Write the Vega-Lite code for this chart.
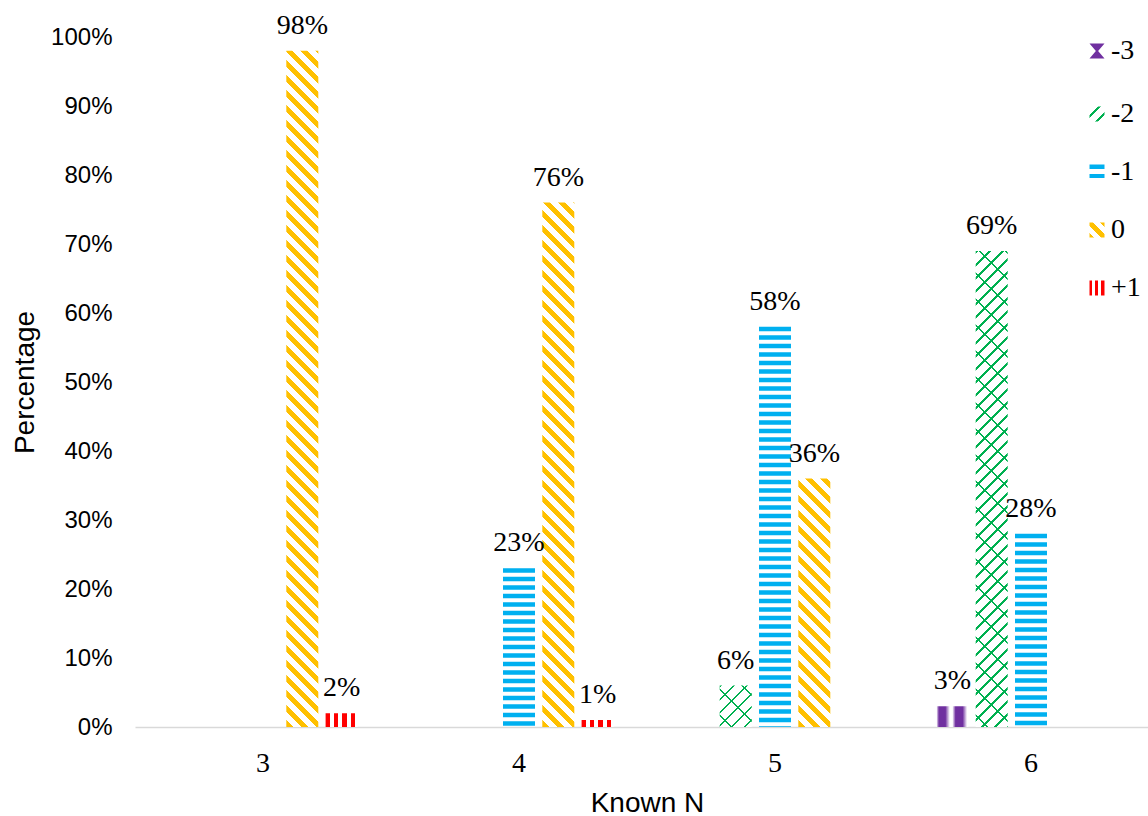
{
  "$schema": "https://vega.github.io/schema/vega-lite/v6.json",
  "width": 1013,
  "height": 690,
  "autosize": {"type": "none"},
  "padding": {"left": 135, "top": 37, "right": 0, "bottom": 89},
  "background": "white",
  "config": {"view": {"stroke": null}, "legend": {"labelFont": "Liberation Serif", "labelFontSize": 28}},
  "data": {
    "values": [
      {"n": 3, "series": "0", "value": 0.98},
      {"n": 3, "series": "+1", "value": 0.02},
      {"n": 4, "series": "-1", "value": 0.23},
      {"n": 4, "series": "0", "value": 0.76},
      {"n": 4, "series": "+1", "value": 0.01},
      {"n": 5, "series": "-2", "value": 0.06},
      {"n": 5, "series": "-1", "value": 0.58},
      {"n": 5, "series": "0", "value": 0.36},
      {"n": 6, "series": "-3", "value": 0.03},
      {"n": 6, "series": "-2", "value": 0.69},
      {"n": 6, "series": "-1", "value": 0.28}
    ]
  },
  "encoding": {
    "x": {
      "field": "n", "type": "nominal",
      "scale": {"range": [0, 1024], "paddingInner": 0, "paddingOuter": 0},
      "axis": {
        "title": "Known N", "labelAngle": 0, "labelFont": "Liberation Serif", "labelFontSize": 28,
        "labelColor": "#000", "labelPadding": 22, "ticks": false, "tickSize": 0, "grid": false,
        "domainColor": "#d9d9d9", "domainWidth": 1.3,
        "titleFont": "Liberation Sans", "titleFontSize": 28, "titleFontWeight": "normal", "titleColor": "#000",
        "titleBaseline": "alphabetic", "titleY": 84
      }
    },
    "y": {
      "field": "value", "type": "quantitative",
      "scale": {"domain": [0, 1], "nice": false},
      "axis": {
        "title": "Percentage", "values": [0, 0.1, 0.2, 0.3, 0.4, 0.5, 0.6, 0.7, 0.8, 0.9, 1], "format": ".0%",
        "labelFont": "Liberation Sans", "labelFontSize": 24, "labelColor": "#000", "labelPadding": 23,
        "ticks": false, "tickSize": 0, "domain": false, "grid": false,
        "titleFont": "Liberation Sans", "titleFontSize": 28, "titleFontWeight": "normal", "titleColor": "#000",
        "titleBaseline": "alphabetic", "titleAngle": 270, "titleX": -101.5, "titleY": 345
      }
    }
  },
  "layer": [
    {
      "mark": {"type": "bar"},
      "encoding": {
        "xOffset": {"field": "series", "type": "nominal", "scale": {"domain": ["-3", "-2", "-1", "0", "+1"], "paddingInner": 0.186, "paddingOuter": 0.85}},
        "fill": {
          "field": "series", "type": "nominal",
          "scale": {"domain": ["-3", "-2", "-1", "0", "+1"], "range": ["#7030a0", "#00b050", "#00b0f0", "#ffc000", "#ff0000"]},
          "legend": {
            "orient": "none", "legendX": 948, "legendY": 0, "title": null, "padding": 0,
            "symbolType": "square", "symbolSize": 25, "symbolStrokeWidth": 10,
            "labelFont": "Liberation Serif", "labelFontSize": 28, "labelColor": "#000", "labelOffset": 0,
            "rowPadding": 12,
            "encode": {
              "symbols": {
                "update": {
                  "shape": [
                    {"test": "datum.value === '-3'", "value": "M-3,-3H3L0.45,0L3,3H-3L-0.45,0Z"},
                    {"value": "square"}
                  ],
                  "strokeJoin": {"value": "miter"},
                  "stroke": [
                    {"test": "datum.value === '-3'", "value": "transparent"},
                    {"test": "datum.value === '-2'", "value": {"gradient": "linear", "x1": -1, "y1": -1, "x2": 2, "y2": 2, "stops": [{"offset": 0, "color": "#fff"}, {"offset": 0.28, "color": "#fff"}, {"offset": 0.28, "color": "#00b050"}, {"offset": 0.37, "color": "#00b050"}, {"offset": 0.37, "color": "#fff"}, {"offset": 0.68, "color": "#fff"}, {"offset": 0.68, "color": "#00b050"}, {"offset": 0.77, "color": "#00b050"}, {"offset": 0.77, "color": "#fff"}, {"offset": 1, "color": "#fff"}]}},
                    {"test": "datum.value === '-1'", "value": {"gradient": "linear", "x1": 0, "y1": -1, "x2": 0, "y2": 2, "stops": [{"offset": 0, "color": "#00b0f0"}, {"offset": 0.3, "color": "#00b0f0"}, {"offset": 0.3, "color": "#fff"}, {"offset": 0.62, "color": "#fff"}, {"offset": 0.62, "color": "#00b0f0"}, {"offset": 0.92, "color": "#00b0f0"}, {"offset": 0.92, "color": "#fff"}, {"offset": 1, "color": "#fff"}]}},
                    {"test": "datum.value === '0'", "value": {"gradient": "linear", "x1": -1, "y1": 2, "x2": 2, "y2": -1, "stops": [{"offset": 0, "color": "#ffc000"}, {"offset": 0.15, "color": "#ffc000"}, {"offset": 0.15, "color": "#fff"}, {"offset": 0.38, "color": "#fff"}, {"offset": 0.38, "color": "#ffc000"}, {"offset": 0.62, "color": "#ffc000"}, {"offset": 0.62, "color": "#fff"}, {"offset": 0.85, "color": "#fff"}, {"offset": 0.85, "color": "#ffc000"}, {"offset": 1, "color": "#ffc000"}]}},
                    {"value": {"gradient": "linear", "x1": -1, "y1": 0, "x2": 2, "y2": 0, "stops": [{"offset": 0, "color": "#ff0000"}, {"offset": 0.2, "color": "#ff0000"}, {"offset": 0.2, "color": "#fff"}, {"offset": 0.4, "color": "#fff"}, {"offset": 0.4, "color": "#ff0000"}, {"offset": 0.6, "color": "#ff0000"}, {"offset": 0.6, "color": "#fff"}, {"offset": 0.8, "color": "#fff"}, {"offset": 0.8, "color": "#ff0000"}, {"offset": 1, "color": "#ff0000"}]}}
                  ]
                }
              }
            }
          },
          "condition": [
            {"test": "datum.series === '-1'", "value": "transparent"},
            {"test": "datum.series === '+1'", "value": {"gradient": "linear", "x1": 0, "y1": 0, "x2": 1, "y2": 0, "stops": [{"offset": 0, "color": "#ff0000"}, {"offset": 0.135, "color": "#ff0000"}, {"offset": 0.135, "color": "#fff"}, {"offset": 0.26, "color": "#fff"}, {"offset": 0.26, "color": "#ff0000"}, {"offset": 0.395, "color": "#ff0000"}, {"offset": 0.395, "color": "#fff"}, {"offset": 0.52, "color": "#fff"}, {"offset": 0.52, "color": "#ff0000"}, {"offset": 0.655, "color": "#ff0000"}, {"offset": 0.655, "color": "#fff"}, {"offset": 0.78, "color": "#fff"}, {"offset": 0.78, "color": "#ff0000"}, {"offset": 0.93, "color": "#ff0000"}, {"offset": 0.93, "color": "#fff"}, {"offset": 1, "color": "#fff"}]}},
            {"test": "datum.series === '-3'", "value": {"gradient": "linear", "x1": 0, "y1": 0, "x2": 1, "y2": 0, "stops": [{"offset": 0, "color": "#fff"}, {"offset": 0.08, "color": "#7030a0"}, {"offset": 0.28, "color": "#7030a0"}, {"offset": 0.42, "color": "#fff"}, {"offset": 0.5, "color": "#fff"}, {"offset": 0.6, "color": "#7030a0"}, {"offset": 0.82, "color": "#7030a0"}, {"offset": 0.96, "color": "#fff"}]}},
            {"test": "datum.n === 3", "value": {"gradient": "linear", "x1": 0, "y1": 1, "x2": 0.104742, "y2": -1.21334, "stops": [
              {"offset":0,"color":"#ffc000"},{"offset":0.005,"color":"#ffc000"},{"offset":0.005,"color":"#fff"},{"offset":0.01,"color":"#fff"},
              {"offset":0.01,"color":"#ffc000"},{"offset":0.015,"color":"#ffc000"},{"offset":0.015,"color":"#fff"},{"offset":0.02,"color":"#fff"},
              {"offset":0.02,"color":"#ffc000"},{"offset":0.025,"color":"#ffc000"},{"offset":0.025,"color":"#fff"},{"offset":0.03,"color":"#fff"},
              {"offset":0.03,"color":"#ffc000"},{"offset":0.035,"color":"#ffc000"},{"offset":0.035,"color":"#fff"},{"offset":0.04,"color":"#fff"},
              {"offset":0.04,"color":"#ffc000"},{"offset":0.045,"color":"#ffc000"},{"offset":0.045,"color":"#fff"},{"offset":0.05,"color":"#fff"},
              {"offset":0.05,"color":"#ffc000"},{"offset":0.055,"color":"#ffc000"},{"offset":0.055,"color":"#fff"},{"offset":0.06,"color":"#fff"},
              {"offset":0.06,"color":"#ffc000"},{"offset":0.065,"color":"#ffc000"},{"offset":0.065,"color":"#fff"},{"offset":0.07,"color":"#fff"},
              {"offset":0.07,"color":"#ffc000"},{"offset":0.075,"color":"#ffc000"},{"offset":0.075,"color":"#fff"},{"offset":0.08,"color":"#fff"},
              {"offset":0.08,"color":"#ffc000"},{"offset":0.085,"color":"#ffc000"},{"offset":0.085,"color":"#fff"},{"offset":0.09,"color":"#fff"},
              {"offset":0.09,"color":"#ffc000"},{"offset":0.095,"color":"#ffc000"},{"offset":0.095,"color":"#fff"},{"offset":0.1,"color":"#fff"},
              {"offset":0.1,"color":"#ffc000"},{"offset":0.105,"color":"#ffc000"},{"offset":0.105,"color":"#fff"},{"offset":0.11,"color":"#fff"},
              {"offset":0.11,"color":"#ffc000"},{"offset":0.115,"color":"#ffc000"},{"offset":0.115,"color":"#fff"},{"offset":0.12,"color":"#fff"},
              {"offset":0.12,"color":"#ffc000"},{"offset":0.125,"color":"#ffc000"},{"offset":0.125,"color":"#fff"},{"offset":0.13,"color":"#fff"},
              {"offset":0.13,"color":"#ffc000"},{"offset":0.135,"color":"#ffc000"},{"offset":0.135,"color":"#fff"},{"offset":0.14,"color":"#fff"},
              {"offset":0.14,"color":"#ffc000"},{"offset":0.145,"color":"#ffc000"},{"offset":0.145,"color":"#fff"},{"offset":0.15,"color":"#fff"},
              {"offset":0.15,"color":"#ffc000"},{"offset":0.155,"color":"#ffc000"},{"offset":0.155,"color":"#fff"},{"offset":0.16,"color":"#fff"},
              {"offset":0.16,"color":"#ffc000"},{"offset":0.165,"color":"#ffc000"},{"offset":0.165,"color":"#fff"},{"offset":0.17,"color":"#fff"},
              {"offset":0.17,"color":"#ffc000"},{"offset":0.175,"color":"#ffc000"},{"offset":0.175,"color":"#fff"},{"offset":0.18,"color":"#fff"},
              {"offset":0.18,"color":"#ffc000"},{"offset":0.185,"color":"#ffc000"},{"offset":0.185,"color":"#fff"},{"offset":0.19,"color":"#fff"},
              {"offset":0.19,"color":"#ffc000"},{"offset":0.195,"color":"#ffc000"},{"offset":0.195,"color":"#fff"},{"offset":0.2,"color":"#fff"},
              {"offset":0.2,"color":"#ffc000"},{"offset":0.205,"color":"#ffc000"},{"offset":0.205,"color":"#fff"},{"offset":0.21,"color":"#fff"},
              {"offset":0.21,"color":"#ffc000"},{"offset":0.215,"color":"#ffc000"},{"offset":0.215,"color":"#fff"},{"offset":0.22,"color":"#fff"},
              {"offset":0.22,"color":"#ffc000"},{"offset":0.225,"color":"#ffc000"},{"offset":0.225,"color":"#fff"},{"offset":0.23,"color":"#fff"},
              {"offset":0.23,"color":"#ffc000"},{"offset":0.235,"color":"#ffc000"},{"offset":0.235,"color":"#fff"},{"offset":0.24,"color":"#fff"},
              {"offset":0.24,"color":"#ffc000"},{"offset":0.245,"color":"#ffc000"},{"offset":0.245,"color":"#fff"},{"offset":0.25,"color":"#fff"},
              {"offset":0.25,"color":"#ffc000"},{"offset":0.255,"color":"#ffc000"},{"offset":0.255,"color":"#fff"},{"offset":0.26,"color":"#fff"},
              {"offset":0.26,"color":"#ffc000"},{"offset":0.265,"color":"#ffc000"},{"offset":0.265,"color":"#fff"},{"offset":0.27,"color":"#fff"},
              {"offset":0.27,"color":"#ffc000"},{"offset":0.275,"color":"#ffc000"},{"offset":0.275,"color":"#fff"},{"offset":0.28,"color":"#fff"},
              {"offset":0.28,"color":"#ffc000"},{"offset":0.285,"color":"#ffc000"},{"offset":0.285,"color":"#fff"},{"offset":0.29,"color":"#fff"},
              {"offset":0.29,"color":"#ffc000"},{"offset":0.295,"color":"#ffc000"},{"offset":0.295,"color":"#fff"},{"offset":0.3,"color":"#fff"},
              {"offset":0.3,"color":"#ffc000"},{"offset":0.305,"color":"#ffc000"},{"offset":0.305,"color":"#fff"},{"offset":0.31,"color":"#fff"},
              {"offset":0.31,"color":"#ffc000"},{"offset":0.315,"color":"#ffc000"},{"offset":0.315,"color":"#fff"},{"offset":0.32,"color":"#fff"},
              {"offset":0.32,"color":"#ffc000"},{"offset":0.325,"color":"#ffc000"},{"offset":0.325,"color":"#fff"},{"offset":0.33,"color":"#fff"},
              {"offset":0.33,"color":"#ffc000"},{"offset":0.335,"color":"#ffc000"},{"offset":0.335,"color":"#fff"},{"offset":0.34,"color":"#fff"},
              {"offset":0.34,"color":"#ffc000"},{"offset":0.345,"color":"#ffc000"},{"offset":0.345,"color":"#fff"},{"offset":0.35,"color":"#fff"},
              {"offset":0.35,"color":"#ffc000"},{"offset":0.355,"color":"#ffc000"},{"offset":0.355,"color":"#fff"},{"offset":0.36,"color":"#fff"},
              {"offset":0.36,"color":"#ffc000"},{"offset":0.365,"color":"#ffc000"},{"offset":0.365,"color":"#fff"},{"offset":0.37,"color":"#fff"},
              {"offset":0.37,"color":"#ffc000"},{"offset":0.375,"color":"#ffc000"},{"offset":0.375,"color":"#fff"},{"offset":0.38,"color":"#fff"},
              {"offset":0.38,"color":"#ffc000"},{"offset":0.385,"color":"#ffc000"},{"offset":0.385,"color":"#fff"},{"offset":0.39,"color":"#fff"},
              {"offset":0.39,"color":"#ffc000"},{"offset":0.395,"color":"#ffc000"},{"offset":0.395,"color":"#fff"},{"offset":0.4,"color":"#fff"},
              {"offset":0.4,"color":"#ffc000"},{"offset":0.405,"color":"#ffc000"},{"offset":0.405,"color":"#fff"},{"offset":0.41,"color":"#fff"},
              {"offset":0.41,"color":"#ffc000"},{"offset":0.415,"color":"#ffc000"},{"offset":0.415,"color":"#fff"},{"offset":0.42,"color":"#fff"},
              {"offset":0.42,"color":"#ffc000"},{"offset":0.425,"color":"#ffc000"},{"offset":0.425,"color":"#fff"},{"offset":0.43,"color":"#fff"},
              {"offset":0.43,"color":"#ffc000"},{"offset":0.435,"color":"#ffc000"},{"offset":0.435,"color":"#fff"},{"offset":0.44,"color":"#fff"},
              {"offset":0.44,"color":"#ffc000"},{"offset":0.445,"color":"#ffc000"},{"offset":0.445,"color":"#fff"},{"offset":0.45,"color":"#fff"},
              {"offset":0.45,"color":"#ffc000"},{"offset":0.455,"color":"#ffc000"},{"offset":0.455,"color":"#fff"},{"offset":0.46,"color":"#fff"},
              {"offset":0.46,"color":"#ffc000"},{"offset":0.465,"color":"#ffc000"},{"offset":0.465,"color":"#fff"},{"offset":0.47,"color":"#fff"},
              {"offset":0.47,"color":"#ffc000"},{"offset":0.475,"color":"#ffc000"},{"offset":0.475,"color":"#fff"},{"offset":0.48,"color":"#fff"}
            ]}},
            {"test": "datum.n === 4", "value": {"gradient": "linear", "x1": 0, "y1": 1, "x2": 0.173901, "y2": -1.8498, "stops": [
              {"offset":0,"color":"#ffc000"},{"offset":0.005,"color":"#ffc000"},{"offset":0.005,"color":"#fff"},{"offset":0.01,"color":"#fff"},
              {"offset":0.01,"color":"#ffc000"},{"offset":0.015,"color":"#ffc000"},{"offset":0.015,"color":"#fff"},{"offset":0.02,"color":"#fff"},
              {"offset":0.02,"color":"#ffc000"},{"offset":0.025,"color":"#ffc000"},{"offset":0.025,"color":"#fff"},{"offset":0.03,"color":"#fff"},
              {"offset":0.03,"color":"#ffc000"},{"offset":0.035,"color":"#ffc000"},{"offset":0.035,"color":"#fff"},{"offset":0.04,"color":"#fff"},
              {"offset":0.04,"color":"#ffc000"},{"offset":0.045,"color":"#ffc000"},{"offset":0.045,"color":"#fff"},{"offset":0.05,"color":"#fff"},
              {"offset":0.05,"color":"#ffc000"},{"offset":0.055,"color":"#ffc000"},{"offset":0.055,"color":"#fff"},{"offset":0.06,"color":"#fff"},
              {"offset":0.06,"color":"#ffc000"},{"offset":0.065,"color":"#ffc000"},{"offset":0.065,"color":"#fff"},{"offset":0.07,"color":"#fff"},
              {"offset":0.07,"color":"#ffc000"},{"offset":0.075,"color":"#ffc000"},{"offset":0.075,"color":"#fff"},{"offset":0.08,"color":"#fff"},
              {"offset":0.08,"color":"#ffc000"},{"offset":0.085,"color":"#ffc000"},{"offset":0.085,"color":"#fff"},{"offset":0.09,"color":"#fff"},
              {"offset":0.09,"color":"#ffc000"},{"offset":0.095,"color":"#ffc000"},{"offset":0.095,"color":"#fff"},{"offset":0.1,"color":"#fff"},
              {"offset":0.1,"color":"#ffc000"},{"offset":0.105,"color":"#ffc000"},{"offset":0.105,"color":"#fff"},{"offset":0.11,"color":"#fff"},
              {"offset":0.11,"color":"#ffc000"},{"offset":0.115,"color":"#ffc000"},{"offset":0.115,"color":"#fff"},{"offset":0.12,"color":"#fff"},
              {"offset":0.12,"color":"#ffc000"},{"offset":0.125,"color":"#ffc000"},{"offset":0.125,"color":"#fff"},{"offset":0.13,"color":"#fff"},
              {"offset":0.13,"color":"#ffc000"},{"offset":0.135,"color":"#ffc000"},{"offset":0.135,"color":"#fff"},{"offset":0.14,"color":"#fff"},
              {"offset":0.14,"color":"#ffc000"},{"offset":0.145,"color":"#ffc000"},{"offset":0.145,"color":"#fff"},{"offset":0.15,"color":"#fff"},
              {"offset":0.15,"color":"#ffc000"},{"offset":0.155,"color":"#ffc000"},{"offset":0.155,"color":"#fff"},{"offset":0.16,"color":"#fff"},
              {"offset":0.16,"color":"#ffc000"},{"offset":0.165,"color":"#ffc000"},{"offset":0.165,"color":"#fff"},{"offset":0.17,"color":"#fff"},
              {"offset":0.17,"color":"#ffc000"},{"offset":0.175,"color":"#ffc000"},{"offset":0.175,"color":"#fff"},{"offset":0.18,"color":"#fff"},
              {"offset":0.18,"color":"#ffc000"},{"offset":0.185,"color":"#ffc000"},{"offset":0.185,"color":"#fff"},{"offset":0.19,"color":"#fff"},
              {"offset":0.19,"color":"#ffc000"},{"offset":0.195,"color":"#ffc000"},{"offset":0.195,"color":"#fff"},{"offset":0.2,"color":"#fff"},
              {"offset":0.2,"color":"#ffc000"},{"offset":0.205,"color":"#ffc000"},{"offset":0.205,"color":"#fff"},{"offset":0.21,"color":"#fff"},
              {"offset":0.21,"color":"#ffc000"},{"offset":0.215,"color":"#ffc000"},{"offset":0.215,"color":"#fff"},{"offset":0.22,"color":"#fff"},
              {"offset":0.22,"color":"#ffc000"},{"offset":0.225,"color":"#ffc000"},{"offset":0.225,"color":"#fff"},{"offset":0.23,"color":"#fff"},
              {"offset":0.23,"color":"#ffc000"},{"offset":0.235,"color":"#ffc000"},{"offset":0.235,"color":"#fff"},{"offset":0.24,"color":"#fff"},
              {"offset":0.24,"color":"#ffc000"},{"offset":0.245,"color":"#ffc000"},{"offset":0.245,"color":"#fff"},{"offset":0.25,"color":"#fff"},
              {"offset":0.25,"color":"#ffc000"},{"offset":0.255,"color":"#ffc000"},{"offset":0.255,"color":"#fff"},{"offset":0.26,"color":"#fff"},
              {"offset":0.26,"color":"#ffc000"},{"offset":0.265,"color":"#ffc000"},{"offset":0.265,"color":"#fff"},{"offset":0.27,"color":"#fff"},
              {"offset":0.27,"color":"#ffc000"},{"offset":0.275,"color":"#ffc000"},{"offset":0.275,"color":"#fff"},{"offset":0.28,"color":"#fff"},
              {"offset":0.28,"color":"#ffc000"},{"offset":0.285,"color":"#ffc000"},{"offset":0.285,"color":"#fff"},{"offset":0.29,"color":"#fff"},
              {"offset":0.29,"color":"#ffc000"},{"offset":0.295,"color":"#ffc000"},{"offset":0.295,"color":"#fff"},{"offset":0.3,"color":"#fff"},
              {"offset":0.3,"color":"#ffc000"},{"offset":0.305,"color":"#ffc000"},{"offset":0.305,"color":"#fff"},{"offset":0.31,"color":"#fff"},
              {"offset":0.31,"color":"#ffc000"},{"offset":0.315,"color":"#ffc000"},{"offset":0.315,"color":"#fff"},{"offset":0.32,"color":"#fff"},
              {"offset":0.32,"color":"#ffc000"},{"offset":0.325,"color":"#ffc000"},{"offset":0.325,"color":"#fff"},{"offset":0.33,"color":"#fff"},
              {"offset":0.33,"color":"#ffc000"},{"offset":0.335,"color":"#ffc000"},{"offset":0.335,"color":"#fff"},{"offset":0.34,"color":"#fff"},
              {"offset":0.34,"color":"#ffc000"},{"offset":0.345,"color":"#ffc000"},{"offset":0.345,"color":"#fff"},{"offset":0.35,"color":"#fff"},
              {"offset":0.35,"color":"#ffc000"},{"offset":0.355,"color":"#ffc000"},{"offset":0.355,"color":"#fff"},{"offset":0.36,"color":"#fff"},
              {"offset":0.36,"color":"#ffc000"},{"offset":0.365,"color":"#ffc000"},{"offset":0.365,"color":"#fff"},{"offset":0.37,"color":"#fff"},
              {"offset":0.37,"color":"#ffc000"},{"offset":0.375,"color":"#ffc000"},{"offset":0.375,"color":"#fff"},{"offset":0.38,"color":"#fff"}
            ]}},
            {"test": "datum.n === 5 && datum.series === '0'", "value": {"gradient": "linear", "x1": 0, "y1": 1, "x2": 0.765226, "y2": -4.94006, "stops": [
              {"offset":0,"color":"#ffc000"},{"offset":0.005,"color":"#ffc000"},{"offset":0.005,"color":"#fff"},{"offset":0.01,"color":"#fff"},
              {"offset":0.01,"color":"#ffc000"},{"offset":0.015,"color":"#ffc000"},{"offset":0.015,"color":"#fff"},{"offset":0.02,"color":"#fff"},
              {"offset":0.02,"color":"#ffc000"},{"offset":0.025,"color":"#ffc000"},{"offset":0.025,"color":"#fff"},{"offset":0.03,"color":"#fff"},
              {"offset":0.03,"color":"#ffc000"},{"offset":0.035,"color":"#ffc000"},{"offset":0.035,"color":"#fff"},{"offset":0.04,"color":"#fff"},
              {"offset":0.04,"color":"#ffc000"},{"offset":0.045,"color":"#ffc000"},{"offset":0.045,"color":"#fff"},{"offset":0.05,"color":"#fff"},
              {"offset":0.05,"color":"#ffc000"},{"offset":0.055,"color":"#ffc000"},{"offset":0.055,"color":"#fff"},{"offset":0.06,"color":"#fff"},
              {"offset":0.06,"color":"#ffc000"},{"offset":0.065,"color":"#ffc000"},{"offset":0.065,"color":"#fff"},{"offset":0.07,"color":"#fff"},
              {"offset":0.07,"color":"#ffc000"},{"offset":0.075,"color":"#ffc000"},{"offset":0.075,"color":"#fff"},{"offset":0.08,"color":"#fff"},
              {"offset":0.08,"color":"#ffc000"},{"offset":0.085,"color":"#ffc000"},{"offset":0.085,"color":"#fff"},{"offset":0.09,"color":"#fff"},
              {"offset":0.09,"color":"#ffc000"},{"offset":0.095,"color":"#ffc000"},{"offset":0.095,"color":"#fff"},{"offset":0.1,"color":"#fff"},
              {"offset":0.1,"color":"#ffc000"},{"offset":0.105,"color":"#ffc000"},{"offset":0.105,"color":"#fff"},{"offset":0.11,"color":"#fff"},
              {"offset":0.11,"color":"#ffc000"},{"offset":0.115,"color":"#ffc000"},{"offset":0.115,"color":"#fff"},{"offset":0.12,"color":"#fff"},
              {"offset":0.12,"color":"#ffc000"},{"offset":0.125,"color":"#ffc000"},{"offset":0.125,"color":"#fff"},{"offset":0.13,"color":"#fff"},
              {"offset":0.13,"color":"#ffc000"},{"offset":0.135,"color":"#ffc000"},{"offset":0.135,"color":"#fff"},{"offset":0.14,"color":"#fff"},
              {"offset":0.14,"color":"#ffc000"},{"offset":0.145,"color":"#ffc000"},{"offset":0.145,"color":"#fff"},{"offset":0.15,"color":"#fff"},
              {"offset":0.15,"color":"#ffc000"},{"offset":0.155,"color":"#ffc000"},{"offset":0.155,"color":"#fff"},{"offset":0.16,"color":"#fff"},
              {"offset":0.16,"color":"#ffc000"},{"offset":0.165,"color":"#ffc000"},{"offset":0.165,"color":"#fff"},{"offset":0.17,"color":"#fff"},
              {"offset":0.17,"color":"#ffc000"},{"offset":0.175,"color":"#ffc000"},{"offset":0.175,"color":"#fff"},{"offset":0.18,"color":"#fff"},
              {"offset":0.18,"color":"#ffc000"},{"offset":0.185,"color":"#ffc000"},{"offset":0.185,"color":"#fff"},{"offset":0.19,"color":"#fff"}
            ]}},
            {"test": "datum.n === 5", "value": {"gradient": "linear", "x1": 0, "y1": 0, "x2": 15.1938, "y2": 19.657, "stops": [
              {"offset":0,"color":"#00b050"},{"offset":0.002,"color":"#00b050"},{"offset":0.002,"color":"#fff"},{"offset":0.01,"color":"#fff"},
              {"offset":0.01,"color":"#00b050"},{"offset":0.012,"color":"#00b050"},{"offset":0.012,"color":"#fff"},{"offset":0.02,"color":"#fff"},
              {"offset":0.02,"color":"#00b050"},{"offset":0.022,"color":"#00b050"},{"offset":0.022,"color":"#fff"},{"offset":0.03,"color":"#fff"},
              {"offset":0.03,"color":"#00b050"},{"offset":0.032,"color":"#00b050"},{"offset":0.032,"color":"#fff"},{"offset":0.04,"color":"#fff"},
              {"offset":0.04,"color":"#00b050"},{"offset":0.042,"color":"#00b050"},{"offset":0.042,"color":"#fff"},{"offset":0.05,"color":"#fff"},
              {"offset":0.05,"color":"#00b050"},{"offset":0.052,"color":"#00b050"},{"offset":0.052,"color":"#fff"},{"offset":0.06,"color":"#fff"}
            ]}},
            {"test": "datum.n === 6", "value": {"gradient": "linear", "x1": 0, "y1": 0, "x2": 0.1827, "y2": 2.71824, "stops": [
              {"offset":0,"color":"#00b050"},{"offset":0.002,"color":"#00b050"},{"offset":0.002,"color":"#fff"},{"offset":0.01,"color":"#fff"},
              {"offset":0.01,"color":"#00b050"},{"offset":0.012,"color":"#00b050"},{"offset":0.012,"color":"#fff"},{"offset":0.02,"color":"#fff"},
              {"offset":0.02,"color":"#00b050"},{"offset":0.022,"color":"#00b050"},{"offset":0.022,"color":"#fff"},{"offset":0.03,"color":"#fff"},
              {"offset":0.03,"color":"#00b050"},{"offset":0.032,"color":"#00b050"},{"offset":0.032,"color":"#fff"},{"offset":0.04,"color":"#fff"},
              {"offset":0.04,"color":"#00b050"},{"offset":0.042,"color":"#00b050"},{"offset":0.042,"color":"#fff"},{"offset":0.05,"color":"#fff"},
              {"offset":0.05,"color":"#00b050"},{"offset":0.052,"color":"#00b050"},{"offset":0.052,"color":"#fff"},{"offset":0.06,"color":"#fff"},
              {"offset":0.06,"color":"#00b050"},{"offset":0.062,"color":"#00b050"},{"offset":0.062,"color":"#fff"},{"offset":0.07,"color":"#fff"},
              {"offset":0.07,"color":"#00b050"},{"offset":0.072,"color":"#00b050"},{"offset":0.072,"color":"#fff"},{"offset":0.08,"color":"#fff"},
              {"offset":0.08,"color":"#00b050"},{"offset":0.082,"color":"#00b050"},{"offset":0.082,"color":"#fff"},{"offset":0.09,"color":"#fff"},
              {"offset":0.09,"color":"#00b050"},{"offset":0.092,"color":"#00b050"},{"offset":0.092,"color":"#fff"},{"offset":0.1,"color":"#fff"},
              {"offset":0.1,"color":"#00b050"},{"offset":0.102,"color":"#00b050"},{"offset":0.102,"color":"#fff"},{"offset":0.11,"color":"#fff"},
              {"offset":0.11,"color":"#00b050"},{"offset":0.112,"color":"#00b050"},{"offset":0.112,"color":"#fff"},{"offset":0.12,"color":"#fff"},
              {"offset":0.12,"color":"#00b050"},{"offset":0.122,"color":"#00b050"},{"offset":0.122,"color":"#fff"},{"offset":0.13,"color":"#fff"},
              {"offset":0.13,"color":"#00b050"},{"offset":0.132,"color":"#00b050"},{"offset":0.132,"color":"#fff"},{"offset":0.14,"color":"#fff"},
              {"offset":0.14,"color":"#00b050"},{"offset":0.142,"color":"#00b050"},{"offset":0.142,"color":"#fff"},{"offset":0.15,"color":"#fff"},
              {"offset":0.15,"color":"#00b050"},{"offset":0.152,"color":"#00b050"},{"offset":0.152,"color":"#fff"},{"offset":0.16,"color":"#fff"},
              {"offset":0.16,"color":"#00b050"},{"offset":0.162,"color":"#00b050"},{"offset":0.162,"color":"#fff"},{"offset":0.17,"color":"#fff"},
              {"offset":0.17,"color":"#00b050"},{"offset":0.172,"color":"#00b050"},{"offset":0.172,"color":"#fff"},{"offset":0.18,"color":"#fff"},
              {"offset":0.18,"color":"#00b050"},{"offset":0.182,"color":"#00b050"},{"offset":0.182,"color":"#fff"},{"offset":0.19,"color":"#fff"},
              {"offset":0.19,"color":"#00b050"},{"offset":0.192,"color":"#00b050"},{"offset":0.192,"color":"#fff"},{"offset":0.2,"color":"#fff"},
              {"offset":0.2,"color":"#00b050"},{"offset":0.202,"color":"#00b050"},{"offset":0.202,"color":"#fff"},{"offset":0.21,"color":"#fff"},
              {"offset":0.21,"color":"#00b050"},{"offset":0.212,"color":"#00b050"},{"offset":0.212,"color":"#fff"},{"offset":0.22,"color":"#fff"},
              {"offset":0.22,"color":"#00b050"},{"offset":0.222,"color":"#00b050"},{"offset":0.222,"color":"#fff"},{"offset":0.23,"color":"#fff"},
              {"offset":0.23,"color":"#00b050"},{"offset":0.232,"color":"#00b050"},{"offset":0.232,"color":"#fff"},{"offset":0.24,"color":"#fff"},
              {"offset":0.24,"color":"#00b050"},{"offset":0.242,"color":"#00b050"},{"offset":0.242,"color":"#fff"},{"offset":0.25,"color":"#fff"},
              {"offset":0.25,"color":"#00b050"},{"offset":0.252,"color":"#00b050"},{"offset":0.252,"color":"#fff"},{"offset":0.26,"color":"#fff"},
              {"offset":0.26,"color":"#00b050"},{"offset":0.262,"color":"#00b050"},{"offset":0.262,"color":"#fff"},{"offset":0.27,"color":"#fff"},
              {"offset":0.27,"color":"#00b050"},{"offset":0.272,"color":"#00b050"},{"offset":0.272,"color":"#fff"},{"offset":0.28,"color":"#fff"},
              {"offset":0.28,"color":"#00b050"},{"offset":0.282,"color":"#00b050"},{"offset":0.282,"color":"#fff"},{"offset":0.29,"color":"#fff"},
              {"offset":0.29,"color":"#00b050"},{"offset":0.292,"color":"#00b050"},{"offset":0.292,"color":"#fff"},{"offset":0.3,"color":"#fff"},
              {"offset":0.3,"color":"#00b050"},{"offset":0.302,"color":"#00b050"},{"offset":0.302,"color":"#fff"},{"offset":0.31,"color":"#fff"},
              {"offset":0.31,"color":"#00b050"},{"offset":0.312,"color":"#00b050"},{"offset":0.312,"color":"#fff"},{"offset":0.32,"color":"#fff"},
              {"offset":0.32,"color":"#00b050"},{"offset":0.322,"color":"#00b050"},{"offset":0.322,"color":"#fff"},{"offset":0.33,"color":"#fff"},
              {"offset":0.33,"color":"#00b050"},{"offset":0.332,"color":"#00b050"},{"offset":0.332,"color":"#fff"},{"offset":0.34,"color":"#fff"},
              {"offset":0.34,"color":"#00b050"},{"offset":0.342,"color":"#00b050"},{"offset":0.342,"color":"#fff"},{"offset":0.35,"color":"#fff"},
              {"offset":0.35,"color":"#00b050"},{"offset":0.352,"color":"#00b050"},{"offset":0.352,"color":"#fff"},{"offset":0.36,"color":"#fff"},
              {"offset":0.36,"color":"#00b050"},{"offset":0.362,"color":"#00b050"},{"offset":0.362,"color":"#fff"},{"offset":0.37,"color":"#fff"},
              {"offset":0.37,"color":"#00b050"},{"offset":0.372,"color":"#00b050"},{"offset":0.372,"color":"#fff"},{"offset":0.38,"color":"#fff"},
              {"offset":0.38,"color":"#00b050"},{"offset":0.382,"color":"#00b050"},{"offset":0.382,"color":"#fff"},{"offset":0.39,"color":"#fff"},
              {"offset":0.39,"color":"#00b050"},{"offset":0.392,"color":"#00b050"},{"offset":0.392,"color":"#fff"},{"offset":0.4,"color":"#fff"}
            ]}}
          ]
        }
      }
    },
    {
      "transform": [{"filter": "datum.series === '-2'"}],
      "mark": {"type": "bar"},
      "encoding": {
        "xOffset": {"field": "series", "type": "nominal", "scale": {"domain": ["-3", "-2", "-1", "0", "+1"], "paddingInner": 0.186, "paddingOuter": 0.85}},
        "fill": {
          "condition": {"test": "datum.n === 5", "value": {"gradient": "linear", "x1": 0, "y1": 1, "x2": 30.3876, "y2": -38.3139, "stops": [
            {"offset":0.004,"color":"rgba(0,0,0,0)"},{"offset":0.004,"color":"#00b050"},{"offset":0.0049,"color":"#00b050"},{"offset":0.0049,"color":"rgba(0,0,0,0)"},
            {"offset":0.014,"color":"rgba(0,0,0,0)"},{"offset":0.014,"color":"#00b050"},{"offset":0.0149,"color":"#00b050"},{"offset":0.0149,"color":"rgba(0,0,0,0)"},
            {"offset":0.024,"color":"rgba(0,0,0,0)"},{"offset":0.024,"color":"#00b050"},{"offset":0.0249,"color":"#00b050"},{"offset":0.0249,"color":"rgba(0,0,0,0)"}
          ]}},
          "value": {"gradient": "linear", "x1": 0, "y1": 1, "x2": 0.365402, "y2": -4.43649, "stops": [
            {"offset":0.004,"color":"rgba(0,0,0,0)"},{"offset":0.004,"color":"#00b050"},{"offset":0.0049,"color":"#00b050"},{"offset":0.0049,"color":"rgba(0,0,0,0)"},
            {"offset":0.014,"color":"rgba(0,0,0,0)"},{"offset":0.014,"color":"#00b050"},{"offset":0.0149,"color":"#00b050"},{"offset":0.0149,"color":"rgba(0,0,0,0)"},
            {"offset":0.024,"color":"rgba(0,0,0,0)"},{"offset":0.024,"color":"#00b050"},{"offset":0.0249,"color":"#00b050"},{"offset":0.0249,"color":"rgba(0,0,0,0)"},
            {"offset":0.034,"color":"rgba(0,0,0,0)"},{"offset":0.034,"color":"#00b050"},{"offset":0.0349,"color":"#00b050"},{"offset":0.0349,"color":"rgba(0,0,0,0)"},
            {"offset":0.044,"color":"rgba(0,0,0,0)"},{"offset":0.044,"color":"#00b050"},{"offset":0.0449,"color":"#00b050"},{"offset":0.0449,"color":"rgba(0,0,0,0)"},
            {"offset":0.054,"color":"rgba(0,0,0,0)"},{"offset":0.054,"color":"#00b050"},{"offset":0.0549,"color":"#00b050"},{"offset":0.0549,"color":"rgba(0,0,0,0)"},
            {"offset":0.064,"color":"rgba(0,0,0,0)"},{"offset":0.064,"color":"#00b050"},{"offset":0.0649,"color":"#00b050"},{"offset":0.0649,"color":"rgba(0,0,0,0)"},
            {"offset":0.074,"color":"rgba(0,0,0,0)"},{"offset":0.074,"color":"#00b050"},{"offset":0.0749,"color":"#00b050"},{"offset":0.0749,"color":"rgba(0,0,0,0)"},
            {"offset":0.084,"color":"rgba(0,0,0,0)"},{"offset":0.084,"color":"#00b050"},{"offset":0.0849,"color":"#00b050"},{"offset":0.0849,"color":"rgba(0,0,0,0)"},
            {"offset":0.094,"color":"rgba(0,0,0,0)"},{"offset":0.094,"color":"#00b050"},{"offset":0.0949,"color":"#00b050"},{"offset":0.0949,"color":"rgba(0,0,0,0)"},
            {"offset":0.104,"color":"rgba(0,0,0,0)"},{"offset":0.104,"color":"#00b050"},{"offset":0.1049,"color":"#00b050"},{"offset":0.1049,"color":"rgba(0,0,0,0)"},
            {"offset":0.114,"color":"rgba(0,0,0,0)"},{"offset":0.114,"color":"#00b050"},{"offset":0.1149,"color":"#00b050"},{"offset":0.1149,"color":"rgba(0,0,0,0)"},
            {"offset":0.124,"color":"rgba(0,0,0,0)"},{"offset":0.124,"color":"#00b050"},{"offset":0.1249,"color":"#00b050"},{"offset":0.1249,"color":"rgba(0,0,0,0)"},
            {"offset":0.134,"color":"rgba(0,0,0,0)"},{"offset":0.134,"color":"#00b050"},{"offset":0.1349,"color":"#00b050"},{"offset":0.1349,"color":"rgba(0,0,0,0)"},
            {"offset":0.144,"color":"rgba(0,0,0,0)"},{"offset":0.144,"color":"#00b050"},{"offset":0.1449,"color":"#00b050"},{"offset":0.1449,"color":"rgba(0,0,0,0)"},
            {"offset":0.154,"color":"rgba(0,0,0,0)"},{"offset":0.154,"color":"#00b050"},{"offset":0.1549,"color":"#00b050"},{"offset":0.1549,"color":"rgba(0,0,0,0)"},
            {"offset":0.164,"color":"rgba(0,0,0,0)"},{"offset":0.164,"color":"#00b050"},{"offset":0.1649,"color":"#00b050"},{"offset":0.1649,"color":"rgba(0,0,0,0)"},
            {"offset":0.174,"color":"rgba(0,0,0,0)"},{"offset":0.174,"color":"#00b050"},{"offset":0.1749,"color":"#00b050"},{"offset":0.1749,"color":"rgba(0,0,0,0)"},
            {"offset":0.184,"color":"rgba(0,0,0,0)"},{"offset":0.184,"color":"#00b050"},{"offset":0.1849,"color":"#00b050"},{"offset":0.1849,"color":"rgba(0,0,0,0)"},
            {"offset":0.194,"color":"rgba(0,0,0,0)"},{"offset":0.194,"color":"#00b050"},{"offset":0.1949,"color":"#00b050"},{"offset":0.1949,"color":"rgba(0,0,0,0)"}
          ]}
        }
      }
    },
    {
      "transform": [{"filter": "datum.series === '-1'"}],
      "mark": {"type": "rule", "strokeWidth": 32, "strokeDash": [4.5, 4], "strokeCap": "butt", "color": "#00b0f0"},
      "encoding": {
        "xOffset": {"field": "series", "type": "nominal", "scale": {"domain": ["-3", "-2", "-1", "0", "+1"], "paddingInner": 0.186, "paddingOuter": 0.85}},
        "y2": {"datum": 0}
      }
    },
    {
      "mark": {"type": "text", "font": "Liberation Serif", "fontSize": 28, "baseline": "alphabetic", "dy": -17, "color": "#000"},
      "encoding": {
        "xOffset": {"field": "series", "type": "nominal", "scale": {"domain": ["-3", "-2", "-1", "0", "+1"], "paddingInner": 0.186, "paddingOuter": 0.85}},
        "text": {"field": "value", "type": "quantitative", "format": ".0%"}
      }
    }
  ]
}
